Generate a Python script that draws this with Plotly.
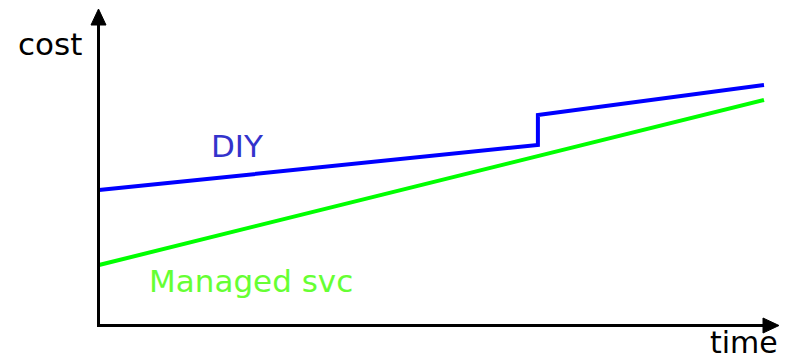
import plotly.graph_objects as go

# data (abstract units)
diy_time = [0, 66, 66, 100]
diy_cost = [45, 60, 70, 80]
managed_time = [0, 100]
managed_cost = [20, 75]

W, H = 785, 360
# pixel mapping helpers for decorations
X0, XS = 99, 6.65   # pixel of time 0, px per unit
Y0, YS = 325, 3.0   # pixel of cost 0, px per unit

xr = [(0 - X0) / XS, (W - X0) / XS]
yr = [(Y0 - H) / YS, (Y0 - 0) / YS]

fig = go.Figure()
fig.add_trace(go.Scatter(x=diy_time, y=diy_cost, mode="lines",
                         line=dict(color="#0000ff", width=4), hoverinfo="skip"))
fig.add_trace(go.Scatter(x=managed_time, y=managed_cost, mode="lines",
                         line=dict(color="#00ff00", width=4), hoverinfo="skip"))

def px(x):
    return x / W

def py(y):
    return 1 - y / H

shapes = [
    # y axis
    dict(type="line", xref="paper", yref="paper", x0=px(98.5), x1=px(98.5),
         y0=py(326.5), y1=py(22), line=dict(color="black", width=3)),
    # x axis
    dict(type="line", xref="paper", yref="paper", x0=px(97), x1=px(766),
         y0=py(325.5), y1=py(325.5), line=dict(color="black", width=3)),
    # arrow heads
    dict(type="path", xref="paper", yref="paper",
         path=f"M {px(91)},{py(25)} L {px(106)},{py(25)} L {px(98.5)},{py(9)} Z",
         fillcolor="black", line=dict(color="black", width=1)),
    dict(type="path", xref="paper", yref="paper",
         path=f"M {px(763)},{py(318)} L {px(763)},{py(333)} L {px(779)},{py(325.5)} Z",
         fillcolor="black", line=dict(color="black", width=1)),
]

font = "DejaVu Sans"
def lab(text, x, y, size, color):
    return dict(text=text, x=px(x), y=py(y), xref="paper", yref="paper",
                xanchor="center", yanchor="middle", showarrow=False,
                font=dict(family=font, size=size, color=color))

annotations = [
    lab("cost", 50, 44, 31, "black"),
    lab("time", 744, 342, 30, "black"),
    lab("DIY", 237, 146, 31, "#3333cc"),
    lab("Managed svc", 251, 280.5, 31, "#66ff33"),
]

fig.update_layout(
    width=W, height=H, margin=dict(l=0, r=0, t=0, b=0),
    paper_bgcolor="white", plot_bgcolor="white", showlegend=False,
    xaxis=dict(range=xr, visible=False, fixedrange=True),
    yaxis=dict(range=yr, visible=False, fixedrange=True),
    shapes=shapes, annotations=annotations,
)
fig.write_html("out.html")
